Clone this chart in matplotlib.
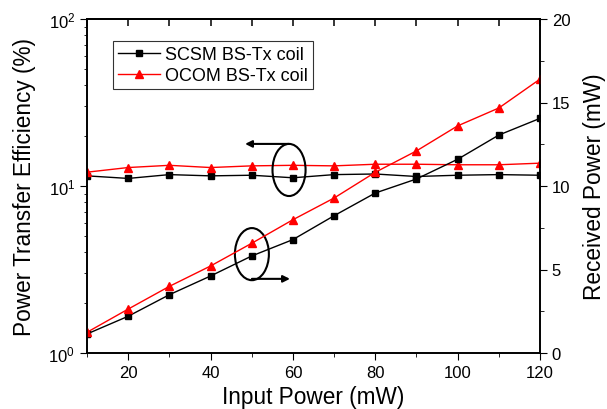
import matplotlib
matplotlib.use("Agg")
import matplotlib.pyplot as plt
from matplotlib.patches import Ellipse
from matplotlib.ticker import MultipleLocator, NullFormatter

plt.rcParams['font.family'] = ['Liberation Sans', 'DejaVu Sans']
plt.rcParams['mathtext.fontset'] = 'custom'
plt.rcParams['mathtext.rm'] = 'Liberation Sans'
plt.rcParams['mathtext.it'] = 'Liberation Sans'

input_power = [10, 20, 30, 40, 50, 60, 70, 80, 90, 100, 110, 120]
scsm_eff = [11.5, 11.1, 11.7, 11.5, 11.6, 11.2, 11.7, 11.8, 11.4, 11.6, 11.7, 11.6]
ocom_eff = [12.1, 12.9, 13.3, 12.9, 13.2, 13.3, 13.2, 13.5, 13.5, 13.4, 13.4, 13.7]
scsm_rx = [1.14, 2.2, 3.49, 4.61, 5.81, 6.79, 8.22, 9.58, 10.42, 11.6, 13.05, 14.05]
ocom_rx = [1.24, 2.63, 3.99, 5.21, 6.57, 7.98, 9.28, 10.82, 12.1, 13.6, 14.67, 16.4]
labels = ['SCSM BS-Tx coil', 'OCOM BS-Tx coil']

fig = plt.figure(figsize=(6.07, 4.10), dpi=100)
ax = fig.add_axes([87/607, 1-354/410, 453/607, 334/410])
ax2 = ax.twinx()

l1, = ax.plot(input_power, scsm_eff, color='black', marker='s', markersize=5, lw=1)
l2, = ax.plot(input_power, ocom_eff, color='red', marker='^', markersize=6, lw=1)
ax2.plot(input_power, scsm_rx, color='black', marker='s', markersize=5, lw=1)
ax2.plot(input_power, ocom_rx, color='red', marker='^', markersize=6, lw=1)

ax.set_yscale('log')
ax.set_ylim(1, 100)
ax.set_xlim(10, 120)
ax2.set_ylim(0, 20)
ax.xaxis.set_major_locator(MultipleLocator(20))
ax.xaxis.set_minor_locator(MultipleLocator(10))
ax2.yaxis.set_major_locator(MultipleLocator(5))
ax2.yaxis.set_minor_locator(MultipleLocator(2.5))

ax.tick_params(axis='x', which='both', direction='out', top=False, labelsize=12)
ax.tick_params(axis='x', which='major', length=5)
ax.tick_params(axis='x', which='minor', length=3)
ax.tick_params(axis='y', which='major', direction='out', length=5, labelsize=12)
ax.tick_params(axis='y', which='minor', direction='out', length=2.5)
ax2.tick_params(axis='y', which='major', direction='out', length=5, labelsize=12)
ax2.tick_params(axis='y', which='minor', direction='out', length=3)

top = ax.secondary_xaxis('top')
top.xaxis.set_major_locator(MultipleLocator(10))
top.xaxis.set_major_formatter(NullFormatter())
top.tick_params(axis='x', which='major', direction='in', length=5, width=1.1)
top.tick_params(axis='x', which='minor', length=0)

for a in (ax, ax2):
    for s in a.spines.values():
        s.set_linewidth(1.2)
top.spines['top'].set_linewidth(1.2)

ax.set_xlabel('Input Power (mW)', fontsize=16.3)
ax.set_ylabel('Power Transfer Efficiency (%)', fontsize=16.3)
ax2.set_ylabel('Received Power (mW)', fontsize=16.3)
ax.yaxis.set_label_coords(-0.113, 0.5)
ax2.yaxis.set_label_coords(1.095, 0.5)

leg = ax.legend([l1, l2], labels, loc='upper left', bbox_to_anchor=(0.057, 0.934),
                borderaxespad=0, fontsize=13, frameon=True, fancybox=False,
                edgecolor='black', borderpad=0.3, handlelength=2.3,
                handletextpad=0.3, labelspacing=0.2)
leg.get_frame().set_linewidth(0.8)

# annotation ellipses and arrows (axes fraction)
e1 = Ellipse((0.446, 0.548), 0.073, 0.156, transform=ax.transAxes, fill=False, color='black', lw=1.5)
e2 = Ellipse((0.364, 0.296), 0.075, 0.156, transform=ax.transAxes, fill=False, color='black', lw=1.5)
ax2.add_patch(e1)
ax2.add_patch(e2)
ax2.annotate('', xy=(0.349, 0.626), xytext=(0.446, 0.626), xycoords='axes fraction',
             arrowprops=dict(arrowstyle='-|>', color='black', lw=1.5, mutation_scale=10, shrinkA=0, shrinkB=0))
ax2.annotate('', xy=(0.448, 0.222), xytext=(0.364, 0.222), xycoords='axes fraction',
             arrowprops=dict(arrowstyle='-|>', color='black', lw=1.5, mutation_scale=10, shrinkA=0, shrinkB=0))

fig.savefig('out.png', dpi=100)
